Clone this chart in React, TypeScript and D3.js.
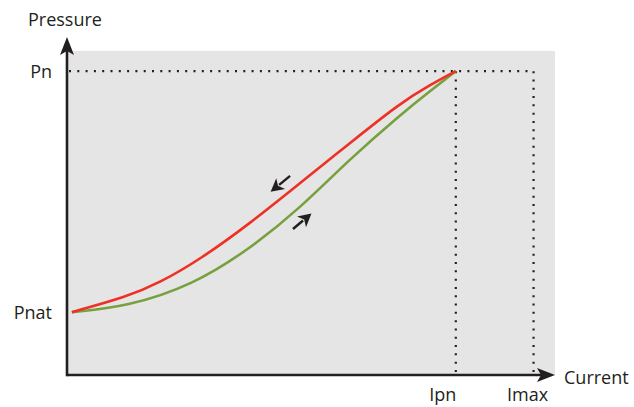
import React from "react";
import * as d3 from "d3";

// Current (x) and pressure (y) in normalised units (axis 0..100)
const redCurrent = [1.0, 12.3, 19.1, 27.4, 37.7, 47.9, 58.2, 68.5, 74.7, 80.0];
const redPressure = [18.6, 23.1, 27.3, 34.2, 44.9, 56.7, 68.6, 80.4, 85.8, 89.9];
const greenCurrent = [1.0, 12.3, 25.9, 37.7, 47.9, 58.2, 68.5, 74.7, 80.0];
const greenPressure = [18.6, 20.2, 26.6, 37.4, 49.3, 63.9, 76.9, 84.0, 89.9];

const Ipn = 80;
const Imax = 96;
const Pn = 89.9;
const Pnat = 18.6;
const boxTop = 95.9;

const xTickLabels = [
  { v: Ipn, label: "Ipn" },
  { v: Imax, label: "Imax" },
];
const yTickLabels = [
  { v: Pn, label: "Pn" },
  { v: Pnat, label: "Pnat" },
];

// direction arrows: [fromX, fromY, toX, toY]
const redArrow = [45.9, 58.9, 41.9, 54.2];
const greenArrow = [46.5, 43.2, 50.3, 47.8];

const W = 634;
const H = 407;
const x0 = 67;
const xTip = 555;
const yAxis = 375;
const yTip = 37;

const x = d3.scaleLinear().domain([0, 100]).range([x0, 553]);
const y = d3.scaleLinear().domain([0, 100]).range([yAxis, 37]);

const font = "'Open Sans', 'Noto Sans', sans-serif";
const ink = "#231f20";

function Arrow({ a }: { a: number[] }) {
  const [fx, fy, tx, ty] = [x(a[0]), y(a[1]), x(a[2]), y(a[3])];
  const ang = Math.atan2(ty - fy, tx - fx);
  const len = Math.hypot(tx - fx, ty - fy);
  const head = 13;
  const hw = 7;
  return (
    <g transform={`translate(${fx},${fy}) rotate(${(ang * 180) / Math.PI})`}>
      <line x1={0} y1={0} x2={len - head + 2} y2={0} stroke={ink} strokeWidth={2.4} />
      <path d={`M${len},0 L${len - head},${-hw} L${len - head + 3.5},0 L${len - head},${hw} Z`} fill={ink} />
    </g>
  );
}

function curvePath(xs: number[], ys: number[]) {
  const pts = xs.map((v, i) => [x(v), y(ys[i])] as [number, number]);
  return d3.line().curve(d3.curveBasis)(pts) || "";
}

export default function App() {
  const dot = { stroke: ink, strokeWidth: 2.2, strokeDasharray: "2 6.3", fill: "none" };

  return (
    <div style={{ position: "absolute", left: 0, top: 0 }}>
      <svg width={W} height={H} style={{ display: "block", background: "#fff" }}>
        <rect x={x0} y={y(boxTop)} width={xTip - x0} height={yAxis - y(boxTop)} fill="#e5e5e5" />

        {/* dotted guides */}
        <line x1={x0 + 2} y1={y(Pn)} x2={x(Imax)} y2={y(Pn)} {...dot} />
        <line x1={x(Ipn)} y1={y(Pn)} x2={x(Ipn)} y2={yAxis - 2} {...dot} />
        <line x1={x(Imax)} y1={y(Pn)} x2={x(Imax)} y2={yAxis - 2} {...dot} />

        {/* curves */}
        <path d={curvePath(greenCurrent, greenPressure)} fill="none" stroke="#77a03e" strokeWidth={2.6} />
        <path d={curvePath(redCurrent, redPressure)} fill="none" stroke="#ee3124" strokeWidth={2.6} />

        <Arrow a={redArrow} />
        <Arrow a={greenArrow} />

        {/* axes */}
        <line x1={x0} y1={yAxis} x2={xTip - 10} y2={yAxis} stroke={ink} strokeWidth={2.6} />
        <line x1={x0} y1={yAxis + 1.3} x2={x0} y2={yTip + 10} stroke={ink} strokeWidth={2.6} />
        <path d={`M${xTip},${yAxis} L${xTip - 18},${yAxis - 7} L${xTip - 14},${yAxis} L${xTip - 18},${yAxis + 7} Z`} fill={ink} />
        <path d={`M${x0},${yTip} L${x0 - 7},${yTip + 18} L${x0},${yTip + 14} L${x0 + 7},${yTip + 18} Z`} fill={ink} />

        {/* labels */}
        <text x={28} y={26} fontFamily={font} fontSize={18} fill={ink}>Pressure</text>
        <text x={564} y={384} fontFamily={font} fontSize={18} fill={ink}>Current</text>
        {yTickLabels.map((t) => (
          <text key={t.label} x={52} y={y(t.v)} dy="0.36em" textAnchor="end" fontFamily={font} fontSize={18} fill={ink}>
            {t.label}
          </text>
        ))}
        {xTickLabels.map((t) => (
          <text key={t.label} x={x(t.v) - (t.label === "Ipn" ? 13 : 6)} y={401} textAnchor="middle" fontFamily={font} fontSize={18} fill={ink}>
            {t.label}
          </text>
        ))}
      </svg>
    </div>
  );
}
